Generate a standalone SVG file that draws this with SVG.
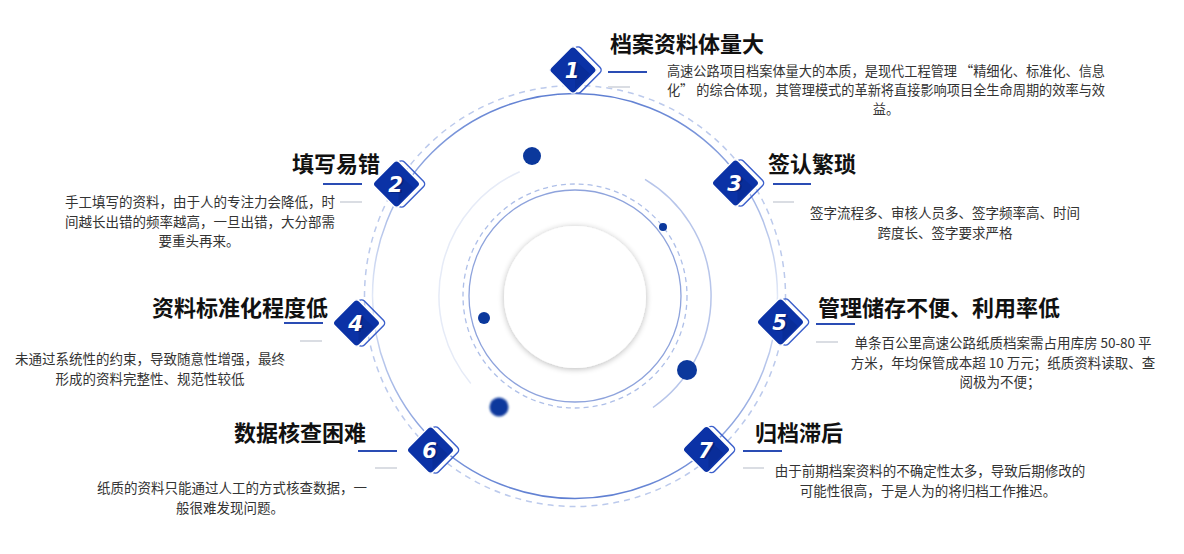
<svg xmlns="http://www.w3.org/2000/svg" width="1184" height="554" viewBox="0 0 1184 554">
<defs>
<linearGradient id="ringGrad" x1="0" y1="0" x2="0" y2="1">
<stop offset="0" stop-color="#5f7fd2"/>
<stop offset="0.5" stop-color="#e1e8f7"/>
<stop offset="1" stop-color="#5f7fd2"/>
</linearGradient>
<filter id="shadow" x="-30%" y="-30%" width="160%" height="160%">
<feGaussianBlur in="SourceAlpha" stdDeviation="3"/>
<feOffset dx="0" dy="1"/>
<feComponentTransfer><feFuncA type="linear" slope="0.28"/></feComponentTransfer>
<feMerge><feMergeNode/><feMergeNode in="SourceGraphic"/></feMerge>
</filter>
<filter id="blur1"><feGaussianBlur stdDeviation="1"/></filter>
<g id="diamond">
<rect transform="translate(5 0) rotate(45)" x="-17.5" y="-17.5" width="35" height="35" rx="4" fill="none" stroke="#3d61cc" stroke-width="1.5"/>
<rect transform="rotate(45)" x="-17.5" y="-17.5" width="35" height="35" rx="4" fill="#0b32a6" stroke="#ffffff" stroke-width="1.5"/>
<path d="M2 -10 L17 4 L2 19 Z" fill="#08288c" opacity="0.5"/>
</g>
</defs>
<style>
.t{font-family:"Noto Sans CJK SC","Noto Sans",sans-serif;font-weight:700;font-size:22px;fill:#111111}
.d{font-family:"Noto Sans CJK SC","Noto Sans",sans-serif;font-size:13.5px;fill:#333333;text-anchor:middle}
.d1{font-size:13.2px}
.blue{stroke:#2a4cb4;stroke-width:2}
.grey{stroke:#dadde3;stroke-width:2}
.num{font-family:"DejaVu Sans","Liberation Sans",sans-serif;font-weight:700;font-style:italic;font-size:21px;fill:#ffffff;text-anchor:middle}
.nums{font-family:"DejaVu Sans","Liberation Sans",sans-serif;font-weight:700;font-style:italic;font-size:21px;fill:#061f73;text-anchor:middle;opacity:0.7}
.dot{fill:#0b389c}
</style>
<rect width="1184" height="554" fill="#ffffff"/>

<g id="connectors">
<circle cx="575" cy="296" r="210.5" fill="none" stroke="#bccaec" stroke-width="1.5" stroke-dasharray="6 5"/>
<circle cx="575" cy="296" r="202.5" fill="none" stroke="url(#ringGrad)" stroke-width="1.5"/>
<path d="M519.7 171.7 A136 136 0 0 0 470.8 383.4" fill="none" stroke="#e6ebf7" stroke-width="1.5"/>
<path d="M645 179.4 A136 136 0 0 1 653 407.5" fill="none" stroke="#b7c5ea" stroke-width="1.5"/>
<circle cx="575" cy="296" r="112" fill="none" stroke="#aebfe8" stroke-width="1.3" stroke-dasharray="5 4"/>
<circle cx="575" cy="296" r="106" fill="none" stroke="#8ea3dc" stroke-width="1.3"/>
<circle cx="575" cy="297" r="71" fill="#ffffff" filter="url(#shadow)"/>
<circle class="dot" cx="532" cy="156" r="9"/>
<circle class="dot" cx="663" cy="227" r="4"/>
<circle class="dot" cx="484" cy="318" r="6"/>
<circle class="dot" cx="687" cy="370" r="10"/>
<circle class="dot" cx="499" cy="407" r="9.5" filter="url(#blur1)"/>
</g>

<g id="node1">
<use href="#diamond" x="573" y="70"/>
<text class="nums" x="574" y="79">1</text>
<text class="num" x="572" y="78">1</text>
<text class="t" x="610" y="52">档案资料体量大</text>
<line class="blue" x1="608" y1="72" x2="647" y2="72"/>
<line class="grey" x1="608" y1="87" x2="630" y2="87"/>
<text class="d d1" x="886" y="76">高速公路项目档案体量大的本质，是现代工程管理 “精细化、标准化、信息</text>
<text class="d d1" x="886" y="95">化” 的综合体现，其管理模式的革新将直接影响项目全生命周期的效率与效</text>
<text class="d d1" x="886" y="114">益。</text>
</g>

<g id="node2">
<use href="#diamond" x="396.5" y="184"/>
<text class="nums" x="397.5" y="193">2</text>
<text class="num" x="395.5" y="192">2</text>
<text class="t" x="380" y="172" text-anchor="end">填写易错</text>
<line class="blue" x1="323" y1="184" x2="362" y2="184"/>
<line class="grey" x1="340" y1="202" x2="362" y2="202"/>
<text class="d" x="200" y="207">手工填写的资料，由于人的专注力会降低，时</text>
<text class="d" x="200" y="227">间越长出错的频率越高，一旦出错，大分部需</text>
<text class="d" x="199" y="246">要重头再来。</text>
</g>

<g id="node3">
<use href="#diamond" x="735.5" y="183"/>
<text class="nums" x="736.5" y="192">3</text>
<text class="num" x="734.5" y="191">3</text>
<text class="t" x="768" y="172">签认繁琐</text>
<line class="blue" x1="773" y1="184" x2="811" y2="184"/>
<line class="grey" x1="773" y1="202" x2="794" y2="202"/>
<text class="d" x="945" y="218">签字流程多、审核人员多、签字频率高、时间</text>
<text class="d" x="945" y="238">跨度长、签字要求严格</text>
</g>

<g id="node4">
<use href="#diamond" x="356.5" y="323"/>
<text class="nums" x="357.5" y="332">4</text>
<text class="num" x="355.5" y="331">4</text>
<text class="t" x="328" y="316" text-anchor="end">资料标准化程度低</text>
<line class="blue" x1="284" y1="323" x2="323" y2="323"/>
<line class="grey" x1="300" y1="341" x2="322" y2="341"/>
<text class="d" x="150" y="364">未通过系统性的约束，导致随意性增强，最终</text>
<text class="d" x="150" y="384">形成的资料完整性、规范性较低</text>
</g>

<g id="node5">
<use href="#diamond" x="780.5" y="322"/>
<text class="nums" x="781.5" y="331">5</text>
<text class="num" x="779.5" y="330">5</text>
<text class="t" x="818" y="316">管理储存不便、利用率低</text>
<line class="blue" x1="816" y1="324" x2="855" y2="324"/>
<line class="grey" x1="816" y1="342" x2="838" y2="342"/>
<text class="d" x="1003" y="348">单条百公里高速公路纸质档案需占用库房 50-80 平</text>
<text class="d" x="1003" y="368">方米，年均保管成本超 10 万元；纸质资料读取、查</text>
<text class="d" x="1000" y="387">阅极为不便；</text>
</g>

<g id="node6">
<use href="#diamond" x="430.5" y="450"/>
<text class="nums" x="431.5" y="459">6</text>
<text class="num" x="429.5" y="458">6</text>
<text class="t" x="366" y="441" text-anchor="end">数据核查困难</text>
<line class="blue" x1="358" y1="451" x2="397" y2="451"/>
<line class="grey" x1="375" y1="468" x2="397" y2="468"/>
<text class="d" x="232" y="493">纸质的资料只能通过人工的方式核查数据，一</text>
<text class="d" x="230" y="513">般很难发现问题。</text>
</g>

<g id="node7">
<use href="#diamond" x="706.5" y="449.5"/>
<text class="nums" x="707.5" y="458.5">7</text>
<text class="num" x="705.5" y="457.5">7</text>
<text class="t" x="755" y="441">归档滞后</text>
<line class="blue" x1="743" y1="451" x2="782" y2="451"/>
<line class="grey" x1="743" y1="468" x2="764" y2="468"/>
<text class="d" x="930" y="476">由于前期档案资料的不确定性太多，导致后期修改的</text>
<text class="d" x="928" y="496">可能性很高，于是人为的将归档工作推迟。</text>
</g>
</svg>
